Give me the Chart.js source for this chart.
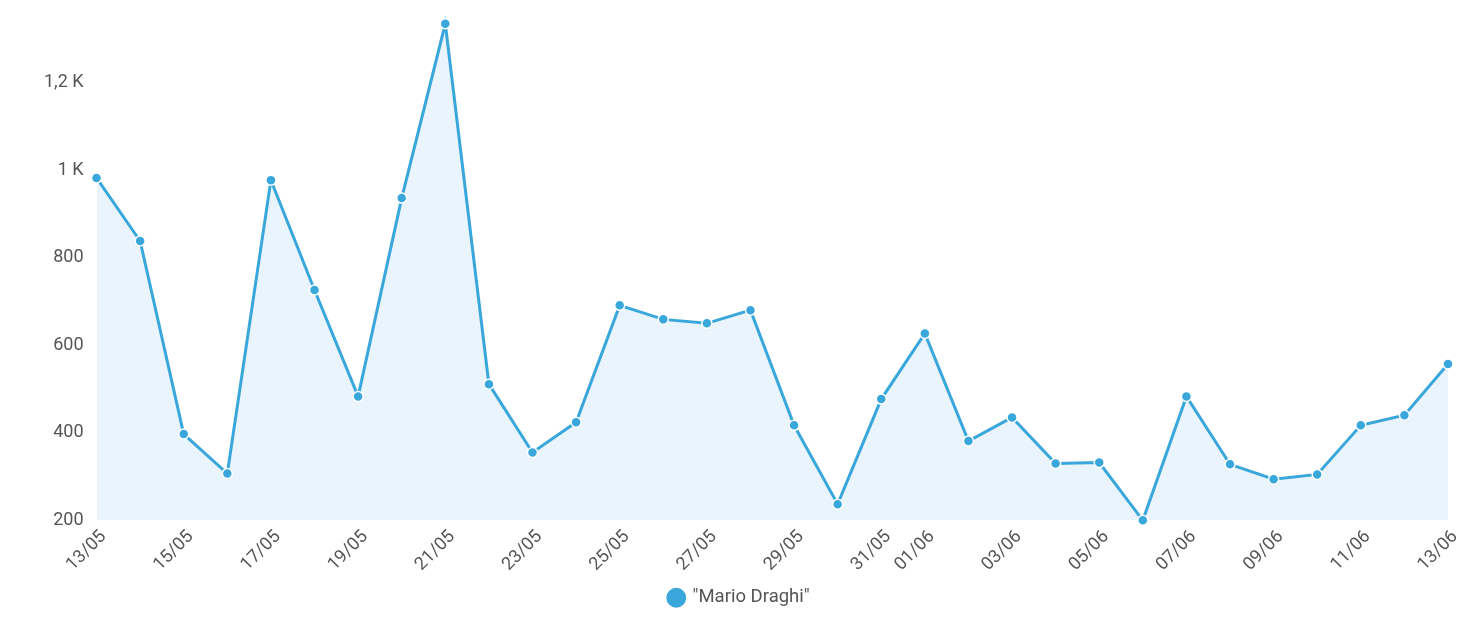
<!DOCTYPE html>
<html><head><meta charset="utf-8">
<script src="https://cdn.jsdelivr.net/npm/chart.js@4/dist/chart.umd.min.js"></script>
<style>html,body{margin:0;padding:0;background:#fff;}#wrap{width:1471px;height:617px;}</style>
</head><body><div id="wrap"><canvas id="c"></canvas></div>
<script>
const categories = ["13/05","14/05","15/05","16/05","17/05","18/05","19/05","20/05","21/05","22/05","23/05","24/05","25/05","26/05","27/05","28/05","29/05","30/05","31/05","01/06","02/06","03/06","04/06","05/06","06/06","07/06","08/06","09/06","10/06","11/06","12/06","13/06"];
const seriesName = "\"Mario Draghi\"";
const values = [982,838,397,307,977,726,483,936,1334,511,355,424,691,659,650,680,417,237,477,627,381,435,330,332,200,483,328,294,305,417,440,557];
const yTicks = [200,400,600,800,1000,1200];

const fmt = v => v >= 1000 ? (String(v/1000).replace('.', ',') + ' K') : String(v);

new Chart(document.getElementById('c'), {
  type: 'line',
  data: {
    labels: categories,
    datasets: [{
      label: seriesName,
      data: values,
      borderColor: '#3aa7dc',
      backgroundColor: '#3aa7dc',
      borderWidth: 3,
      pointRadius: 5,
      pointHoverRadius: 5,
      pointBorderColor: '#ffffff',
      pointBorderWidth: 1.5,
      pointBackgroundColor: '#3aa7dc',
      tension: 0,
      fill: { target: 'start', above: '#e9f4fc' },
      clip: false
    }]
  },
  options: {
    responsive: true,
    maintainAspectRatio: false,
    animation: false,
    layout: { padding: { top: 22, right: 23, left: 31, bottom: 0 } },
    plugins: {
      legend: {
        position: 'bottom',
        labels: {
          usePointStyle: true, pointStyle: 'circle', boxWidth: 14, boxHeight: 14,
          color: '#555', font: { family: 'Roboto', size: 18.5 }, padding: 7,
          generateLabels: chart => [{ text: seriesName, fillStyle: '#3aa7dc', strokeStyle: '#3aa7dc', fontColor: '#555', lineWidth: 0, pointStyle: 'circle', datasetIndex: 0 }]
        }
      },
      tooltip: { enabled: false }
    },
    scales: {
      x: {
        offset: false,
        grid: { display: false, drawTicks: false },
        border: { display: false },
        ticks: {
          autoSkip: false, maxRotation: 45, minRotation: 45, padding: 6, labelOffset: 7,
          color: '#555', font: { family: 'Roboto', size: 18 },
          callback: function(v, i) { const d = parseInt(categories[i].slice(0, 2), 10); return d % 2 === 1 ? categories[i] : ''; }
        }
      },
      y: {
        min: 200, max: 1334,
        grid: { display: false, drawTicks: false },
        border: { display: false },
        afterBuildTicks: axis => { axis.ticks = yTicks.map(v => ({ value: v })); },
        ticks: {
          padding: 13, color: '#555', font: { family: 'Roboto', size: 18 },
          callback: v => fmt(v)
        }
      }
    }
  }
});
</script></body></html>
